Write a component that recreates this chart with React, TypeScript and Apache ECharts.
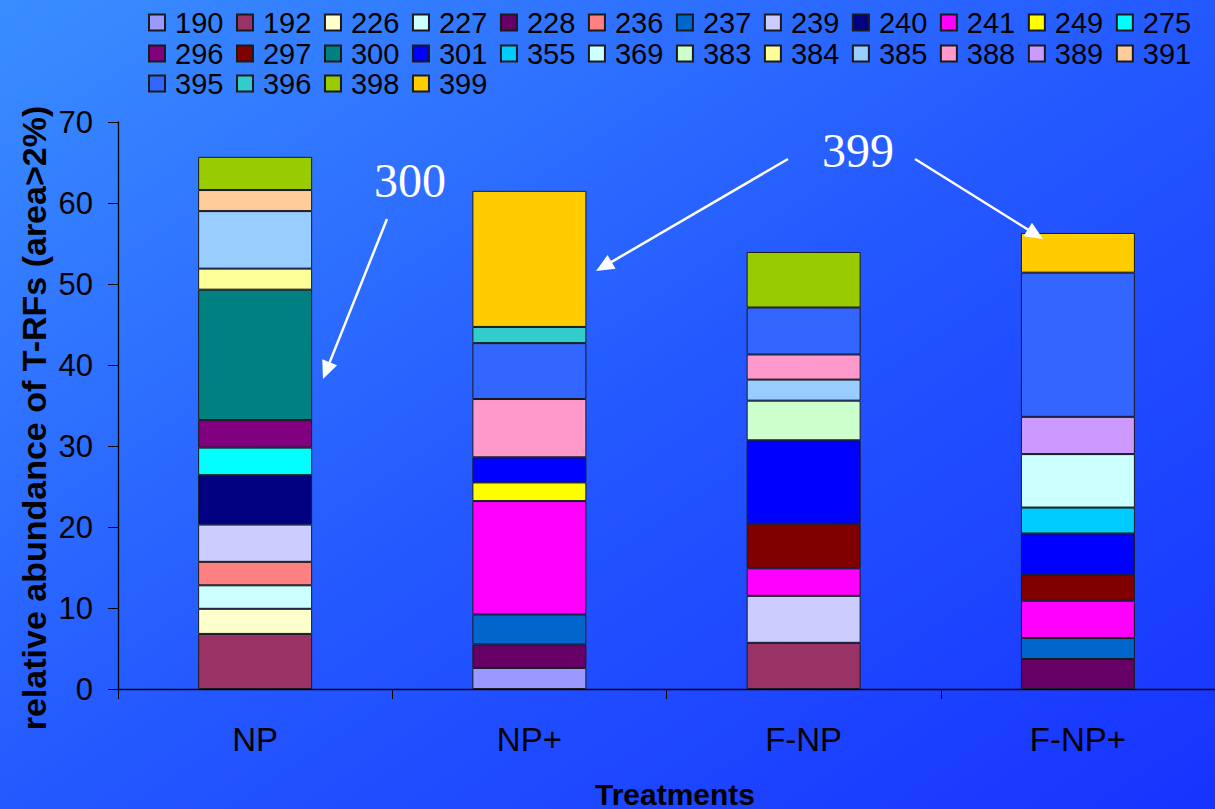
import React, { useEffect, useRef } from "react";
import * as echarts from "echarts";

const categories = ["NP", "NP+", "F-NP", "F-NP+"];

const trfNames = [
  "190", "192", "226", "227", "228", "236", "237", "239", "240", "241", "249", "275",
  "296", "297", "300", "301", "355", "369", "383", "384", "385", "388", "389", "391",
  "395", "396", "398", "399",
];

const trfColors = [
  "#9999FF", "#993366", "#FFFFCC", "#CCFFFF", "#660066", "#FF8080", "#0066CC", "#CCCCFF",
  "#000080", "#FF00FF", "#FFFF00", "#00FFFF", "#800080", "#800000", "#008080", "#0000FF",
  "#00CCFF", "#CCFFFF", "#CCFFCC", "#FFFF99", "#99CCFF", "#FF99CC", "#CC99FF", "#FFCC99",
  "#3366FF", "#33CCCC", "#99CC00", "#FFCC00",
];

// values per treatment, aligned with trfNames (null = absent)
const valuesNP = [
  null, 6.8, 3.1, 2.9, null, 2.9, null, 4.6, 6.1, null, null, 3.4,
  3.4, null, 16.1, null, null, null, null, 2.6, 7.1, null, null, 2.6,
  null, null, 4.1, null,
];
const valuesNPplus = [
  2.6, null, null, null, 2.9, null, 3.7, null, null, 14.0, 2.3, null,
  null, null, null, 3.1, null, null, null, null, null, 7.2, null, null,
  6.9, 2.0, null, 16.8,
];
const valuesFNP = [
  null, 5.7, null, null, null, null, null, 5.8, null, 3.4, null, null,
  null, 5.5, null, 10.3, null, null, 4.9, null, 2.6, 3.1, null, null,
  5.8, null, 6.85, null,
];
const valuesFNPplus = [
  null, null, null, null, 3.7, null, 2.6, null, null, 4.6, null, null,
  null, 3.2, null, 5.1, 3.2, 6.6, null, null, null, null, 4.6, null,
  17.8, null, null, 4.9,
];

const yTicks = { min: 0, max: 70, interval: 10 };

const legendRows = [trfNames.slice(0, 12), trfNames.slice(12, 24), trfNames.slice(24)];

const annotations = [
  { text: "300", x: 410, y: 180 },
  { text: "399", x: 858, y: 150 },
];
const arrows = [
  { from: [387, 219], to: [323, 379] },
  { from: [788, 159], to: [596, 271] },
  { from: [915, 159], to: [1043, 239] },
];

function arrowGraphics() {
  const out: any[] = [];
  arrows.forEach((a) => {
    const [x1, y1] = a.from;
    const [x2, y2] = a.to;
    const dx = x2 - x1;
    const dy = y2 - y1;
    const len = Math.sqrt(dx * dx + dy * dy);
    const ux = dx / len;
    const uy = dy / len;
    const L = 18;
    const W = 8;
    const bx = x2 - ux * L;
    const by = y2 - uy * L;
    out.push({
      type: "line",
      shape: { x1, y1, x2: bx + ux * 2, y2: by + uy * 2 },
      style: { stroke: "#ffffff", lineWidth: 2.5 },
      z: 100,
    });
    out.push({
      type: "polygon",
      shape: {
        points: [
          [x2, y2],
          [bx - uy * W, by + ux * W],
          [bx + uy * W, by - ux * W],
        ],
      },
      style: { fill: "#ffffff" },
      z: 100,
    });
  });
  return out;
}

export default function App() {
  const ref = useRef<HTMLDivElement>(null);
  useEffect(() => {
    if (!ref.current) return;
    const chart = echarts.init(ref.current, undefined, { renderer: "svg" });
    const perCat = [valuesNP, valuesNPplus, valuesFNP, valuesFNPplus];
    const series = trfNames.map((name, i) => ({
      name,
      type: "bar",
      stack: "total",
      barWidth: 114,
      data: perCat.map((arr) => arr[i]),
      itemStyle: { color: trfColors[i], borderColor: "#1a1a1a", borderWidth: 1 },
      emphasis: { disabled: true },
    }));
    const legendBase = {
      left: 148,
      width: 1067,
      orient: "horizontal",
      padding: 0,
      itemWidth: 16,
      itemHeight: 16,
      itemGap: 12.6,
      icon: "rect",
      textStyle: {
        color: "#000",
        fontSize: 29,
        width: 46,
        fontFamily: "Liberation Sans, Arial, sans-serif",
        padding: [0, 0, 0, 5],
      },
      selectedMode: false,
    };
    chart.setOption({
      animation: false,
      backgroundColor: new echarts.graphic.LinearGradient(0, 0, 1, 1, [
        { offset: 0, color: "#3a8eff" },
        { offset: 0.5, color: "#2459ff" },
        { offset: 1, color: "#1733ff" },
      ]),
      textStyle: { fontFamily: "Liberation Sans, Arial, sans-serif" },
      legend: [
        { ...legendBase, top: 8, data: legendRows[0] },
        { ...legendBase, top: 39, data: legendRows[1] },
        { ...legendBase, top: 69, data: legendRows[2] },
      ],
      grid: { left: 118, top: 122, width: 1112, height: 567 },
      xAxis: {
        type: "category",
        data: categories,
        axisLine: { show: true, lineStyle: { color: "#000", width: 1.3 } },
        axisTick: { show: true, length: 10, lineStyle: { color: "#000" } },
        axisLabel: {
          color: "#000",
          fontSize: 33,
          margin: 34,
          fontFamily: "Liberation Sans, Arial, sans-serif",
        },
      },
      yAxis: {
        type: "value",
        min: yTicks.min,
        max: yTicks.max,
        interval: yTicks.interval,
        splitLine: { show: false },
        axisLine: { show: true, lineStyle: { color: "#000", width: 1.3 } },
        axisTick: { show: true, length: 10, lineStyle: { color: "#000" } },
        axisLabel: {
          color: "#000",
          fontSize: 31,
          margin: 25,
          fontFamily: "Liberation Sans, Arial, sans-serif",
        },
      },
      series,
      graphic: [
        {
          type: "text",
          x: 34,
          y: 418,
          rotation: Math.PI / 2,
          style: {
            text: "relative abundance of T-RFs (area>2%)",
            font: "bold 34px 'Liberation Sans', Arial, sans-serif",
            fill: "#000",
            align: "center",
            verticalAlign: "middle",
          },
        },
        {
          type: "text",
          x: 675,
          y: 779,
          style: {
            text: "Treatments",
            font: "bold 30px 'Liberation Sans', Arial, sans-serif",
            fill: "#000",
            align: "center",
            verticalAlign: "top",
          },
        },
        ...annotations.map((a) => ({
          type: "text",
          x: a.x,
          y: a.y,
          z: 100,
          style: {
            text: a.text,
            font: "48px 'Liberation Serif', 'Times New Roman', serif",
            fill: "#ffffff",
            align: "center",
            verticalAlign: "middle",
          },
        })),
        ...arrowGraphics(),
      ],
    });
    return () => chart.dispose();
  }, []);
  return (
    <div
      ref={ref}
      style={{ position: "fixed", left: 0, top: 0, width: 1215, height: 809 }}
    />
  );
}
